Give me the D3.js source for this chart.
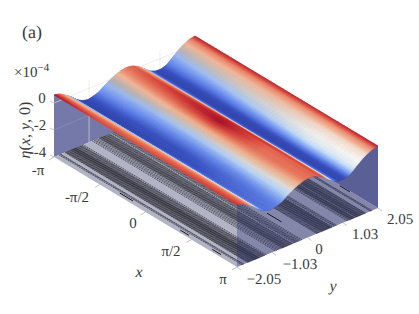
<!DOCTYPE html>
<html><head><meta charset="utf-8">
<script src="https://cdn.jsdelivr.net/npm/d3@7/dist/d3.min.js"></script>
<style>html,body{margin:0;padding:0;background:#fff}svg{display:block}text{font-family:"Liberation Serif",serif;fill:#3a3a3a;text-rendering:geometricPrecision}</style>
</head><body><svg id="c" width="419" height="314"></svg>
<script>
const PI = Math.PI;
const xStations = [-PI, -PI/2, 0, PI/2, PI];
const yStations = [-2.05,-1.886,-1.722,-1.558,-1.394,-1.23,-1.066,-0.902,-0.738,-0.574,-0.41,-0.246,-0.082,0.082,0.246,0.41,0.574,0.738,0.902,1.066,1.23,1.394,1.558,1.722,1.886,2.05];
// surface height (x 1e-4) against y
const etaProfile = [0.60,0.50,0.25,-0.05,-0.45,-0.70,-0.80,-0.70,-0.56,-0.25,0.00,0.20,0.34,0.39,0.30,0.08,-0.25,-0.60,-0.78,-0.80,-0.65,-0.30,0.05,0.32,0.52,0.60];
// colour value at x = -pi, -pi/2, 0, pi/2, pi, one list per station
const shadeA = [1,.55,.2,-.35,-.8,-.95,-.9,-.7,-.5,-.25,0,.2,.42,.55,.62,.38,-.1,-.6,-.95,-.85,-.6,-.33,-.05,.2,.46,.92];
const shadeB = [.72,.55,.3,-.2,-.75,-.95,-.9,-.75,-.55,-.3,0,.28,.55,.72,.82,.6,.1,-.6,-.95,-.9,-.62,-.28,0,.2,.46,.92];
const shadeC = [.7,.55,.38,-.1,-.6,-.85,-.88,-.75,-.55,-.3,0,.33,.72,1,.95,.85,.2,-.65,-.95,-.9,-.55,-.18,.02,.18,.44,.9];
const shadeD = [.75,.6,.42,-.05,-.55,-.72,-.72,-.65,-.5,-.25,.05,.33,.52,.58,.6,.8,.35,-.55,-.95,-.88,-.45,-.08,.02,.12,.42,.9];
const shadeE = [.8,.62,.45,0,-.45,-.62,-.62,-.55,-.4,-.2,.05,.28,.5,.58,.6,.7,.15,-.5,-.9,-.88,-.45,-.08,.02,.12,.42,.95];
const shades = [shadeA,shadeB,shadeC,shadeD,shadeE];
const sheenX = [.1,.25,.45,.75,.85];
const zTicks = [0,-2,-4];
const zGrid = [0,-2];
const xTicks = [-PI,-PI/2,0,PI/2,PI];
const xTickLabels = ["-π","-π/2","0","π/2","π"];
const yTicks = [-2.05,-1.03,0,1.03,2.05];
const yTickLabels = ["−2.05","−1.03","0","1.03","2.05"];
const contourLevels = d3.range(-0.72,0.54,0.03).filter(l=>l<0.29||l>0.42);
// short closed-contour fragments seen on the floor: x start, x end, y
const closedX0 = [1.75,-1.0,1.1,2.2,1.85];
const closedX1 = [2.25,-0.55,1.4,2.5,2.2];
const closedY = [0.0,-1.95,-1.97,-1.97,2.03];

const zTop = 0.6;
const ux = d3.scaleLinear([-PI,PI],[0,183]), vx = d3.scaleLinear([-PI,PI],[0,110]);
const uy = d3.scaleLinear([-2.05,2.05],[0,141]), vy = d3.scaleLinear([-2.05,2.05],[0,-59]);
const wz = d3.scaleLinear([-4,0],[157,103]);
const proj = (x,y,z)=>[54+ux(x)+uy(y), wz(z)+vx(x)+vy(y)];
const etaOf = d3.scaleLinear(yStations, etaProfile);
const shadeCols = shades.map(s=>d3.scaleLinear(yStations,s));
const sheenOf = d3.scaleLinear(xStations, sheenX);
const sheenY = d3.scaleLinear([-2.05,0,1.2,1.7,2.05],[.7,.7,1,1.2,1]);
const xSeg = d3.scaleLinear(xStations,[0,1,2,3,4]);
function colour(x,y){
  const k = xSeg(x), i = Math.min(3,Math.floor(k)), f = k-i;
  const v = shadeCols[i](y)*(1-f)+shadeCols[i+1](y)*f;
  const s = Math.min(1,sheenOf(x)*sheenY(y));
  const mid = d3.interpolateRgb("rgb(178,172,172)","rgb(255,255,250)")(s);
  const lb = d3.interpolateRgb("rgb(150,180,240)","rgb(205,235,255)")(s);
  return d3.scaleLinear([-1,-.8,-.5,-.22,0,.25,.5,.75,1],
    ["rgb(48,66,165)","rgb(55,80,195)","rgb(105,140,240)",lb,mid,"rgb(245,185,150)","rgb(238,125,95)","rgb(215,65,55)","rgb(168,15,40)"])(v);
}
const svg = d3.select("#c");
const line = d3.line();
const gBack = svg.append("g");
// back walls
const denseY = d3.range(0,161).map(i=>-2.05+4.1*i/160);
const denseX = d3.range(0,61).map(i=>-PI+2*PI*i/60);
const wallX = denseY.map(y=>proj(-PI,y,etaOf(y))).concat([proj(-PI,2.05,-4),proj(-PI,-2.05,-4)]);
gBack.append("path").attr("d",line(wallX)+"Z").attr("fill","rgb(116,121,170)");
gBack.append("path").attr("d",line([proj(-PI,2.05,zTop),proj(PI,2.05,zTop),proj(PI,2.05,-4),proj(-PI,2.05,-4)])+"Z").attr("fill","rgb(116,121,170)");
// grid
const gridCol="#e2e2e2";
zGrid.forEach(z=>gBack.append("path").attr("d",line([proj(-PI,-2.05,z),proj(-PI,2.05,z)])).attr("fill","none").attr("stroke",gridCol).attr("stroke-width",.6).attr("stroke-opacity",z===0?1:.25));
yTicks.slice(1,4).forEach(y=>gBack.append("path").attr("d",line([proj(-PI,y,-4),proj(-PI,y,zTop)])).attr("fill","none").attr("stroke",gridCol).attr("stroke-width",.6));
// floor
svg.append("path").attr("d",line([proj(-PI,-2.05,-4),proj(PI,-2.05,-4),proj(PI,2.05,-4),proj(-PI,2.05,-4)])+"Z").attr("fill","rgb(178,180,198)");
// floor contours: each level crossing of the height profile
const gC = svg.append("g").attr("fill","none").attr("stroke","rgb(18,18,24)").attr("stroke-width",.62).attr("stroke-dasharray","1.4 0.7");
contourLevels.forEach(l=>{
  for(let i=0;i<yStations.length-1;i++){
    const a=etaProfile[i],b=etaProfile[i+1];
    if((a-l)*(b-l)<0){
      const y=yStations[i]+(l-a)/(b-a)*(yStations[i+1]-yStations[i]);
      gC.append("path").attr("d",line([proj(-PI,y,-4),proj(PI,y,-4)]));
    }
  }
});
const gK = svg.append("g").attr("fill","none").attr("stroke","#111").attr("stroke-width",1);
closedY.forEach((y,i)=>gK.append("path").attr("d",line([proj(closedX0[i],y,-4),proj(closedX1[i],y,-4)])));
// surface
const gS = svg.append("g");
for(let a=0;a<denseX.length-1;a++){
  for(let b=denseY.length-2;b>=0;b--){
    const x0=denseX[a],x1=denseX[a+1],y0=denseY[b],y1=denseY[b+1];
    const c=colour((x0+x1)/2,(y0+y1)/2);
    gS.append("path").attr("d",line([proj(x0,y0,etaOf(y0)),proj(x1,y0,etaOf(y0)),proj(x1,y1,etaOf(y1)),proj(x0,y1,etaOf(y1))])+"Z").attr("fill",c).attr("stroke",c).attr("stroke-width",.5);
  }
}
// translucent end wall at x = pi
const wallE = denseY.map(y=>proj(PI,y,etaOf(y))).concat([proj(PI,2.05,-4),proj(PI,-2.05,-4)]);
svg.append("path").attr("d",line(wallE)+"Z").attr("fill","rgb(40,45,110)").attr("fill-opacity",.33);
// ticks
const gT = svg.append("g").attr("stroke","#aaa").attr("stroke-width",.7).attr("fill","none");
xTicks.forEach(x=>{const p=proj(x,-2.05,-4);gT.append("path").attr("d",line([p,[p[0]-5,p[1]+3]]));});
yTicks.forEach(y=>{const p=proj(PI,y,-4);gT.append("path").attr("d",line([p,[p[0]+4,p[1]+3]]));});
zTicks.forEach(z=>{const p=proj(-PI,-2.05,z);gT.append("path").attr("d",line([p,[p[0]-4,p[1]-2]]));});
// labels
function label(t,x,y,size,it){return svg.append("text").attr("x",x).attr("y",y).attr("text-anchor","middle").attr("dominant-baseline","central").attr("font-size",size).attr("font-style",it?"italic":"normal").text(t);}
label("(a)",32,32,18);
const mult=svg.append("text").attr("x",14).attr("y",77).attr("font-size",15);
mult.append("tspan").text("×10");
mult.append("tspan").attr("dy",-6).attr("font-size",11).text("−4");
zTicks.forEach((z,i)=>label(z===0?"0":"-"+(-z),[42,40,40][i],[99,126,153][i],15));
const xPos=[[38,171],[77,198],[133,224],[171,252],[223,280]];
xTickLabels.forEach((t,i)=>label(t,xPos[i][0],xPos[i][1],15));
const yPos=[[264,280],[300,265],[319,250],[365,235],[400,220]];
yTickLabels.forEach((t,i)=>label(t,yPos[i][0],yPos[i][1],15));
label("x",139,272,16,true);
label("y",333,286,16,true);
const eta=svg.append("text").attr("transform","translate(25,130) rotate(-90)").attr("text-anchor","middle").attr("dominant-baseline","central").attr("font-size",16);
eta.append("tspan").attr("font-style","italic").text("η");
eta.append("tspan").text("(");
eta.append("tspan").attr("font-style","italic").text("x");
eta.append("tspan").text(", ");
eta.append("tspan").attr("font-style","italic").text("y");
eta.append("tspan").text(", 0)");
</script></body></html>
